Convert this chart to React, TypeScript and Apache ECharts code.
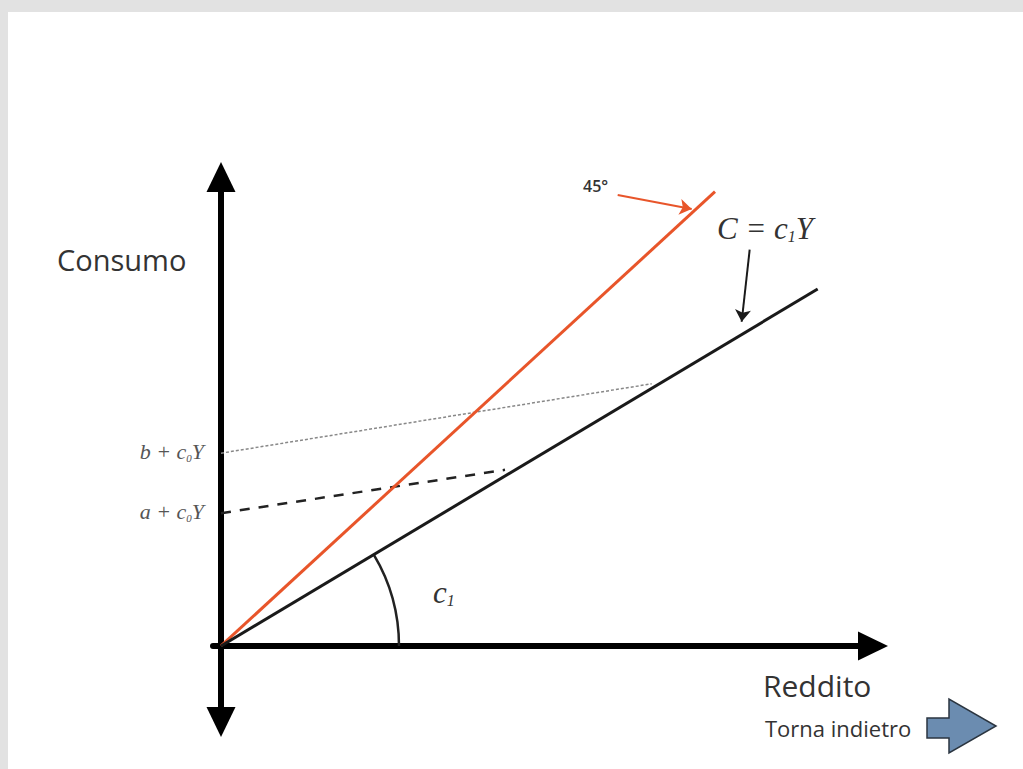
import React, { useEffect, useRef } from 'react';
import * as echarts from 'echarts';

// ---- data (in abstract income / consumption units) ----
const xRange = [-1.2, 97.8];
const yRange = [-11.4, 70.3];
const line45 = [[0, 0], [74.1, 68.1]];
const consumption = [[0, 0], [89.5, 53.5]];
const lineB = [[0, 28.9], [64.6, 39.3]];
const lineA = [[0, 19.9], [42.6, 26.4]];
const arrow45 = [[59.5, 67.6], [70.6, 65.5]];
const arrowC = [[79.3, 59.4], [78.1, 48.6]];
const yTitle = 'Consumo';
const xTitle = 'Reddito';
const backLabel = 'Torna indietro';
const label45 = '45°';

const SERIF = '"Liberation Serif", "DejaVu Serif", serif';
const SANS = '"Open Sans", Lato, "Noto Sans", sans-serif';

export default function App() {
  const ref = useRef<HTMLDivElement>(null);
  useEffect(() => {
    if (!ref.current) return;
    const chart = echarts.init(ref.current, undefined, { renderer: 'svg' });
    const mathRich = (size: number, color: string) => ({
      t: { fontFamily: SERIF, fontStyle: 'italic', fontSize: size, fill: color, color, lineHeight: size + 2 },
      s: { fontFamily: SERIF, fontStyle: 'italic', fontSize: Math.round(size * 0.5), fill: color, color, verticalAlign: 'bottom', lineHeight: Math.round(size * 0.5) },
    });
    chart.setOption({
      animation: false,
      backgroundColor: '#e2e2e2',
      grid: { left: 213, top: 177, width: 660, height: 545, containLabel: false },
      xAxis: {
        type: 'value', min: xRange[0], max: xRange[1],
        axisLine: { onZero: true, lineStyle: { color: '#000', width: 6 }, symbol: ['none', 'triangle'], symbolSize: [29, 30] },
        axisTick: { show: false }, axisLabel: { show: false }, splitLine: { show: false },
      },
      yAxis: {
        type: 'value', min: yRange[0], max: yRange[1],
        axisLine: { onZero: true, lineStyle: { color: '#000', width: 6 }, symbol: ['triangle', 'triangle'], symbolSize: [29, 30] },
        axisTick: { show: false }, axisLabel: { show: false }, splitLine: { show: false },
      },
      graphic: [
        { type: 'rect', shape: { x: 8, y: 12, width: 1015, height: 757 }, style: { fill: '#ffffff' }, z: -10, silent: true },
        { type: 'text', x: 57, y: 259, style: { text: yTitle, font: `29px ${SANS}`, fill: '#333', verticalAlign: 'middle' }, z: 10 },
        { type: 'text', x: 763, y: 685, style: { text: xTitle, font: `30px ${SANS}`, fill: '#333', verticalAlign: 'middle' }, z: 10 },
        { type: 'text', x: 765, y: 728, style: { text: backLabel, font: `22px ${SANS}`, fill: '#333', verticalAlign: 'middle' }, z: 10 },
        { type: 'text', x: 583, y: 186, style: { text: label45, font: `600 16px ${SANS}`, fill: '#333', verticalAlign: 'middle' }, z: 10 },
        { type: 'text', x: 717, y: 228, style: { text: '{t|C = c}{s|1}{t|Y}', rich: mathRich(31, '#333'), verticalAlign: 'middle' }, z: 10 },
        { type: 'text', x: 433, y: 592, style: { text: '{t|c}{s|1}', rich: mathRich(31, '#333'), verticalAlign: 'middle' }, z: 10 },
        { type: 'text', x: 204, y: 451, style: { text: '{t|b + c}{s|0}{t|Y}', rich: mathRich(22, '#555'), align: 'right', verticalAlign: 'middle' }, z: 10 },
        { type: 'text', x: 204, y: 511, style: { text: '{t|a + c}{s|0}{t|Y}', rich: mathRich(22, '#555'), align: 'right', verticalAlign: 'middle' }, z: 10 },
        {
          type: 'polygon',
          shape: { points: [[927, 718], [949, 718], [949, 699], [996, 726], [949, 753], [949, 738], [927, 738]] },
          style: { fill: '#6b8cb0', stroke: '#2b3540', lineWidth: 1.5 }, z: 10,
        },
      ],
      series: [
        {
          type: 'line', data: lineB, symbol: 'none', silent: true,
          lineStyle: { color: '#888', width: 1.5, type: [3, 2] }, z: 2,
        },
        {
          type: 'line', data: lineA, symbol: 'none', silent: true,
          lineStyle: { color: '#222', width: 2.5, type: [10, 9] }, z: 2,
        },
        {
          type: 'line', data: line45, symbol: 'none', silent: true,
          lineStyle: { color: '#e8552a', width: 3 }, z: 3,
          markLine: {
            silent: true, symbol: ['none', 'arrow'], symbolSize: 12, label: { show: false },
            lineStyle: { color: '#e8552a', width: 2, type: 'solid' },
            data: [[{ coord: arrow45[0] }, { coord: arrow45[1] }]],
          },
        },
        {
          type: 'line', data: consumption, symbol: 'none', silent: true,
          lineStyle: { color: '#1a1a1a', width: 3 }, z: 3,
          markLine: {
            silent: true, symbol: ['none', 'arrow'], symbolSize: 12, label: { show: false },
            lineStyle: { color: '#1a1a1a', width: 2, type: 'solid' },
            data: [[{ coord: arrowC[0] }, { coord: arrowC[1] }]],
          },
        },
        {
          type: 'custom', data: [[0, 0]], silent: true, z: 3,
          renderItem: (_p: any, api: any) => {
            const o = api.coord(consumption[0]);
            const e = api.coord(consumption[1]);
            const ang = Math.atan2(e[1] - o[1], e[0] - o[0]);
            return {
              type: 'arc',
              shape: { cx: o[0], cy: o[1], r: 178, startAngle: ang, endAngle: 0, clockwise: true },
              style: { stroke: '#222', lineWidth: 2.5, fill: 'none' },
            };
          },
        },
      ],
    });
    return () => chart.dispose();
  }, []);
  return <div ref={ref} style={{ position: 'fixed', left: 0, top: 0, width: 1023, height: 769 }} />;
}
